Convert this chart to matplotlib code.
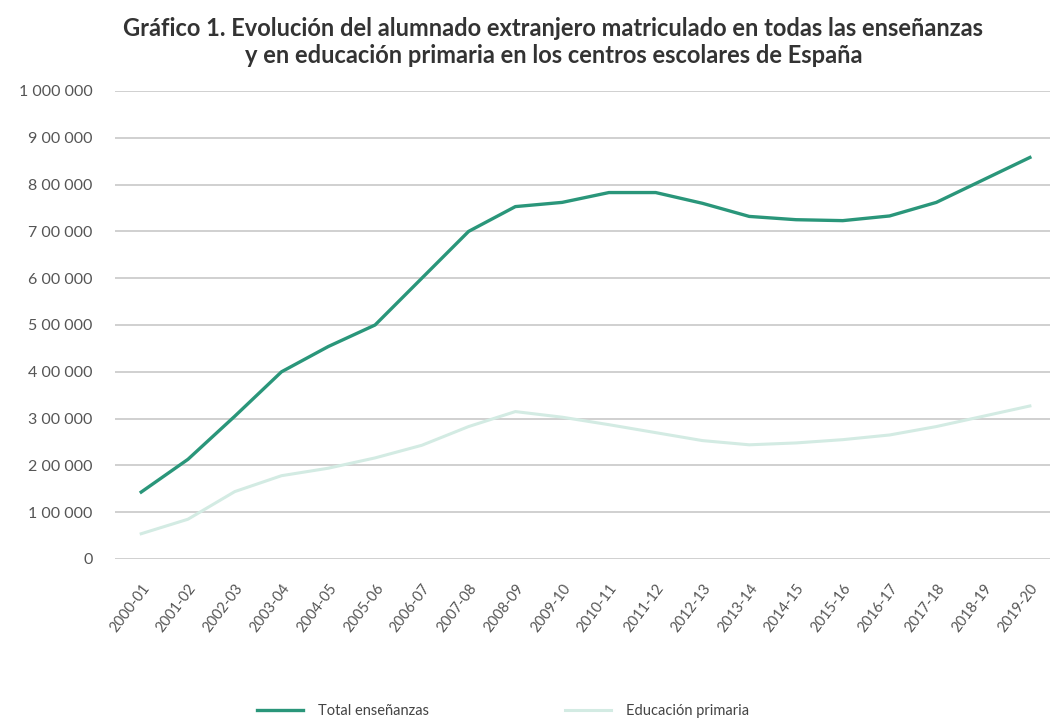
import matplotlib.pyplot as plt

cursos = ['2000-01', '2001-02', '2002-03', '2003-04', '2004-05', '2005-06',
          '2006-07', '2007-08', '2008-09', '2009-10', '2010-11', '2011-12',
          '2012-13', '2013-14', '2014-15', '2015-16', '2016-17', '2017-18',
          '2018-19', '2019-20']
total = [143000, 213000, 305000, 400000, 454000, 500000, 600000, 700000, 753000,
         762000, 783000, 783000, 760000, 732000, 725000, 723000, 733000, 762000,
         810000, 858000]
primaria = [54000, 85000, 144000, 178000, 194000, 216000, 243000, 283000, 315000,
            303000, 287000, 270000, 253000, 244000, 248000, 255000, 265000, 283000,
            305000, 327000]
y_ticks = [0, 100000, 200000, 300000, 400000, 500000, 600000, 700000, 800000,
           900000, 1000000]
y_labels = ['0', '1 00 000', '2 00 000', '3 00 000', '4 00 000', '5 00 000',
            '6 00 000', '7 00 000', '8 00 000', '9 00 000', '1 000 000']

plt.rcParams['font.family'] = ['Lato', 'DejaVu Sans']

fig = plt.figure(figsize=(10.52, 7.22), dpi=100)
ax = fig.add_axes([115/1052, 1 - 559/722, (1050-115)/1052, (559-91)/722])

x = list(range(len(cursos)))
ax.plot(x, primaria, color='#d3ebe3', lw=2.2, label='Educación primaria', zorder=3)
ax.plot(x, total, color='#2a967a', lw=2.4, label='Total enseñanzas', zorder=4)

ax.set_xlim(-0.56, 19.43)
ax.set_ylim(0, 1000000)
ax.set_yticks(y_ticks)
ax.set_yticklabels(y_labels, fontsize=11.5, color='#555555')
ax.set_xticks(x)
ax.set_xticklabels(cursos, rotation=53, ha='right', rotation_mode='anchor',
                   fontsize=10.5, color='#555555')
ax.tick_params(axis='both', length=0)
ax.tick_params(axis='y', pad=16)
ax.tick_params(axis='x', pad=16)
ax.grid(axis='y', color='#c4c4c4', lw=1.1)
ax.set_axisbelow(True)
for s in ax.spines.values():
    s.set_visible(False)

fig.text(0.526, 0.976, 'Gráfico 1. Evolución del alumnado extranjero matriculado en todas las enseñanzas\n'
         'y en educación primaria en los centros escolares de España',
         ha='center', va='top', fontsize=17, fontweight='bold', color='#333333',
         linespacing=1.2)

h, l = ax.get_legend_handles_labels()
fig.legend(h[::-1], l[::-1], loc='center', bbox_to_anchor=(0.478, 0.015), ncol=2,
           frameon=False, fontsize=10.5, handlelength=3.2, handletextpad=1.0,
           columnspacing=9.3, labelcolor='#444444')

fig.savefig('out.png', dpi=100, facecolor='white')
